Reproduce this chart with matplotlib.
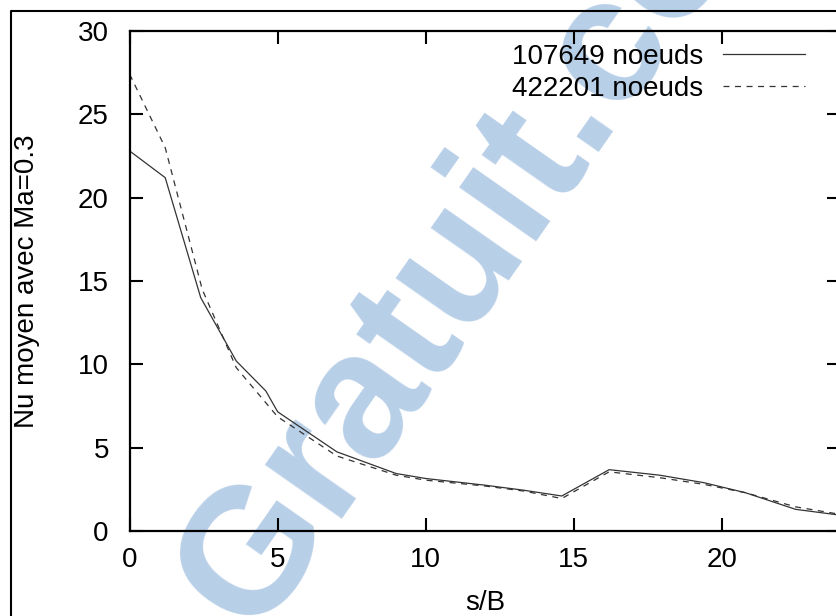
import matplotlib
matplotlib.use("Agg")
import matplotlib.pyplot as plt
from matplotlib.lines import Line2D

plt.rcParams["font.family"] = ["Liberation Sans", "DejaVu Sans"]
plt.rcParams["lines.scale_dashes"] = False

# Mean Nusselt number along the wall, Ma = 0.3, two mesh resolutions
s_coarse = [0.0, 1.2, 2.4, 3.6, 4.6, 5.0, 7.0, 9.0, 10.0, 12.0, 13.3, 14.6, 16.2, 17.9, 19.4, 20.8, 22.5, 24.0]
nu_coarse = [22.8, 21.2, 14.0, 10.2, 8.4, 7.15, 4.75, 3.45, 3.15, 2.75, 2.45, 2.1, 3.68, 3.35, 2.9, 2.3, 1.3, 0.95]

s_fine = [0.0, 1.2, 2.45, 3.6, 5.0, 7.0, 9.0, 10.0, 12.0, 13.3, 14.6, 16.2, 17.9, 19.4, 20.8, 22.5, 24.0]
nu_fine = [27.4, 23.0, 14.5, 9.8, 6.85, 4.5, 3.35, 3.05, 2.7, 2.4, 1.95, 3.55, 3.2, 2.8, 2.3, 1.45, 1.0]

label_coarse = "107649 noeuds"
label_fine = "422201 noeuds"

x_ticks = [0, 5, 10, 15, 20]
y_ticks = [0, 5, 10, 15, 20, 25, 30]

FS = 20

W, H = 836, 616
fig = plt.figure(figsize=(W / 100, H / 100), dpi=100)

# outer frame of the page
fig.add_artist(Line2D([11 / W, 11 / W, 1.0], [0.0, 1 - 11 / H, 1 - 11 / H],
                      transform=fig.transFigure, color="black", lw=1.5))

# light-blue watermark behind the plot
fig.text(253 / W, (H - 636) / H, "Gratuit.com", rotation=55, rotation_mode="anchor",
         ha="left", va="baseline", fontsize=129, fontweight="bold",
         color="#b8cfe8", zorder=-5)

ax_left, ax_right, ax_top, ax_bottom = 129.7, 840.0, 31.0, 531.0
ax = fig.add_axes([ax_left / W, (H - ax_bottom) / H,
                   (ax_right - ax_left) / W, (ax_bottom - ax_top) / H])
ax.set_facecolor("none")

ax.plot(s_coarse, nu_coarse, color="#333333", lw=0.9, label=label_coarse)
ax.plot(s_fine, nu_fine, color="#333333", lw=0.9, dashes=(4.3, 4.0), label=label_fine)

ax.set_xlim(0, 24)
ax.set_ylim(0, 30)
ax.set_xticks(x_ticks)
ax.set_yticks(y_ticks)
for sp in ax.spines.values():
    sp.set_linewidth(1.6)
ax.tick_params(direction="in", length=9.5, width=1.5, top=True, right=True,
               labelsize=FS)
ax.tick_params(axis="x", pad=11.5)
ax.tick_params(axis="y", pad=15.0)

ax.set_xlabel("s/B", fontsize=FS)
ax.xaxis.set_label_coords(0.5, -(590 - ax_bottom) / (ax_bottom - ax_top))
ax.set_ylabel("Nu moyen avec Ma=0.3", fontsize=FS)
ax.yaxis.set_label_coords(-(ax_left - 40) / (ax_right - ax_left), 0.5)

ax.legend(loc="upper right", markerfirst=False, frameon=False, fontsize=FS,
          handlelength=2.95, handletextpad=0.7, labelspacing=0.22,
          borderaxespad=0, borderpad=0,
          bbox_to_anchor=((805 - ax_left) / (ax_right - ax_left),
                          (ax_bottom - 44) / (ax_bottom - ax_top)))

fig.savefig("out.png", dpi=100)
